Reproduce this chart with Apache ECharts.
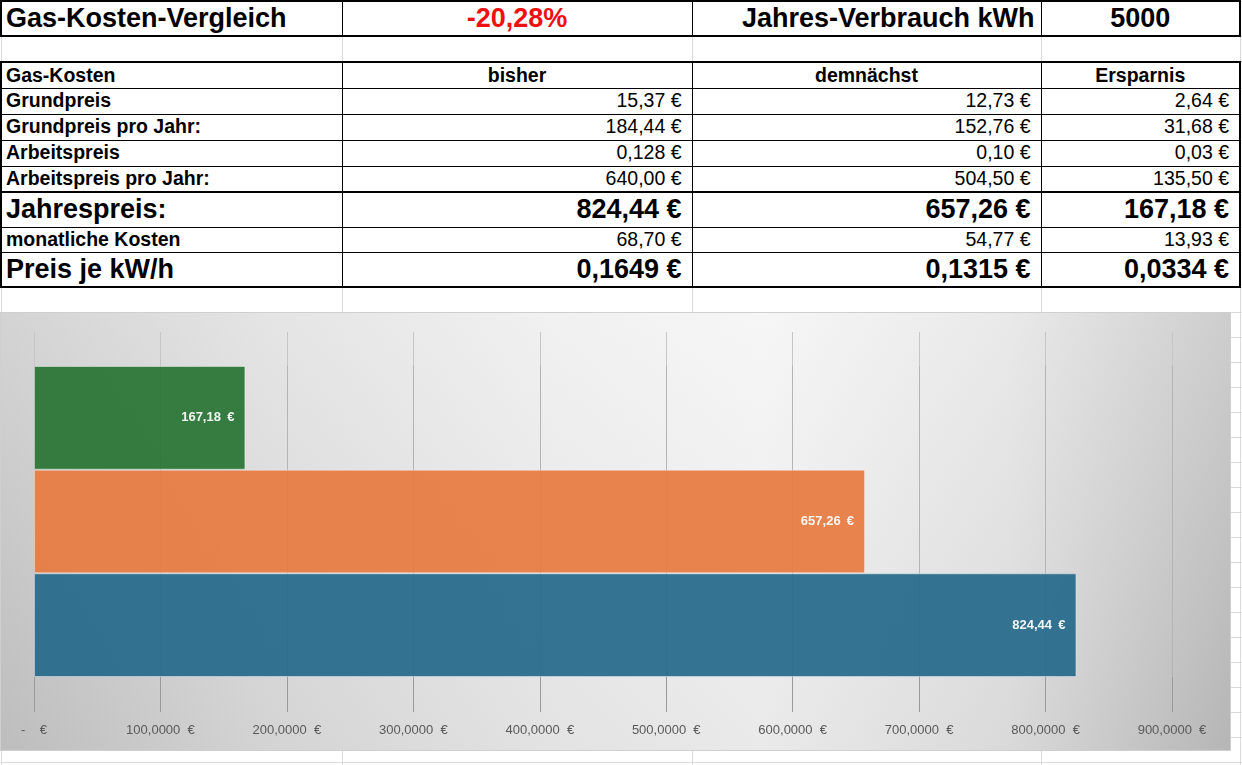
<!DOCTYPE html>
<html lang="de">
<head>
<meta charset="UTF-8">
<title>Gas-Kosten-Vergleich</title>
<script src="https://cdn.jsdelivr.net/npm/echarts@6/dist/echarts.min.js"></script>
<style>
    body{margin:0;background:#fff;width:1242px;height:765px;overflow:hidden;position:relative;
         font-family:"Liberation Sans",Arial,sans-serif;}
    table.sheet{position:absolute;left:0;top:0;width:1259px;border-collapse:collapse;table-layout:fixed;}
    .sheet td{padding:0 10px 0 4px;white-space:nowrap;overflow:hidden;font-size:19.5px;color:#000;
              border:1px solid #000;line-height:1;vertical-align:middle;}
    .sheet td:first-child{border-left:2px solid #000;}
    .sheet td.d{border-right:2px solid #000;}
    .sheet td.e{border:1px solid #dadada;}
    .sheet tr.light td{border:1px solid #dadada;}
    .sheet tr.tt td{border-top:2px solid #000;}
    .sheet tr.tb td{border-bottom:2px solid #000;}
    .sheet tr.tt td.e,.sheet tr.tb td.e{border-top:1px solid #dadada;border-bottom:1px solid #dadada;}
    .b{font-weight:bold;}
    .big{font-size:27px !important;font-weight:bold;}
    .r{text-align:right;}
    .c{text-align:center;padding:0 !important;}
    #chart{position:absolute;left:1px;top:313px;width:1229px;height:437px;z-index:2;
           box-shadow:0 0 0 1px #cfcfcf;
           background:
             linear-gradient(to bottom, rgba(255,255,255,0.25), rgba(0,0,0,0.04)),
             linear-gradient(to right, #c5c5c5 0%, #dcdcdc 22%, #ececec 45%, #f3f3f3 62%, #e2e2e2 82%, #bdbdbd 100%);}
</style>
</head>
<body>

<table class="sheet" id="sheet">
    <colgroup>
        <col style="width:341px"><col style="width:350px"><col style="width:349px"><col style="width:199px"><col style="width:20px">
    </colgroup>
    <tbody id="sheet_body"></tbody>
</table>

<div id="chart"></div>

<script>
    // table content
    var titleRow = ['Gas-Kosten-Vergleich', '-20,28%', 'Jahres-Verbrauch kWh', '5000'];
    var headerRow = ['Gas-Kosten', 'bisher', 'demnächst', 'Ersparnis'];
    var rowLabels = ['Grundpreis', 'Grundpreis pro Jahr:', 'Arbeitspreis', 'Arbeitspreis pro Jahr:',
                     'Jahrespreis:', 'monatliche Kosten', 'Preis je kW/h'];
    var bisher     = ['15,37 €', '184,44 €', '0,128 €', '640,00 €', '824,44 €', '68,70 €', '0,1649 €'];
    var demnaechst = ['12,73 €', '152,76 €', '0,10 €',  '504,50 €', '657,26 €', '54,77 €', '0,1315 €'];
    var ersparnis  = ['2,64 €',  '31,68 €',  '0,03 €',  '135,50 €', '167,18 €', '13,93 €', '0,0334 €'];
    var bigRows = ['Jahrespreis:', 'Preis je kW/h'];

    // chart data (bottom to top)
    var categories = ['bisher', 'demnächst', 'Ersparnis'];
    var jahrespreis = [824.44, 657.26, 167.18];
    var barColors = ['#26698a', '#e77b42', '#297435'];

    var html = '';
    html += '<tr class="tt tb" style="height:35px">' +
        '<td class="big">' + titleRow[0] + '</td>' +
        '<td class="big c" style="color:#ee1111">' + titleRow[1] + '</td>' +
        '<td class="big r" style="padding-right:6px">' + titleRow[2] + '</td>' +
        '<td class="big c d">' + titleRow[3] + '</td><td class="e"></td></tr>';
    html += '<tr class="light" style="height:26px"><td></td><td></td><td></td><td></td><td></td></tr>';
    html += '<tr class="tt" style="height:26px">' +
        '<td class="b">' + headerRow[0] + '</td>' +
        '<td class="b c">' + headerRow[1] + '</td>' +
        '<td class="b c">' + headerRow[2] + '</td>' +
        '<td class="b c d">' + headerRow[3] + '</td><td class="e"></td></tr>';
    for (var i = 0; i < rowLabels.length; i++) {
        var big = bigRows.indexOf(rowLabels[i]) >= 0;
        var cls = '';
        if (i == 3 || i == rowLabels.length - 1) cls = 'tb';
        var h = big ? 35 : 26;
        if (rowLabels[i] == 'monatliche Kosten') h = 25;
        var vc = big ? 'big r' : 'r';
        html += '<tr class="' + cls + '" style="height:' + h + 'px">' +
            '<td class="' + (big ? 'big' : 'b') + '">' + rowLabels[i] + '</td>' +
            '<td class="' + vc + '">' + bisher[i] + '</td>' +
            '<td class="' + vc + '">' + demnaechst[i] + '</td>' +
            '<td class="' + vc + ' d">' + ersparnis[i] + '</td><td class="e"></td></tr>';
    }
    for (var k = 0; k < 20; k++) {
        html += '<tr class="light" style="height:25px"><td></td><td></td><td></td><td></td><td></td></tr>';
    }
    document.getElementById('sheet_body').innerHTML = html;

    function fmtAxis(v) {
        if (v === 0) return '-\u00a0\u00a0\u00a0\u00a0€';
        return v.toFixed(4).replace('.', ',') + '\u00a0\u00a0€';
    }
    function fmtEuro(v) {
        return v.toFixed(2).replace('.', ',') + '\u00a0\u2009€';
    }

    var myChart = echarts.init(document.getElementById('chart'));
    myChart.setOption({
        animation: false,
        backgroundColor: 'transparent',
        grid: {left: 33, right: 58, top: 53, bottom: 73},
        xAxis: [{
            type: 'value', min: 0, max: 900, interval: 100, position: 'bottom',
            axisLine: {show: false},
            axisTick: {show: true, length: 35, lineStyle: {color: '#9a9a9a'}},
            splitLine: {show: true, lineStyle: {color: '#b4b4b4'}},
            axisLabel: {margin: 47, color: '#595959', fontSize: 13, fontFamily: 'Liberation Sans', formatter: fmtAxis}
        }, {
            type: 'value', min: 0, max: 900, interval: 100, position: 'top',
            axisLine: {show: false},
            axisTick: {show: true, length: 34, lineStyle: {color: '#c6c6c6'}},
            splitLine: {show: false},
            axisLabel: {show: false}
        }],
        yAxis: {
            type: 'category', data: categories,
            axisLine: {show: false}, axisTick: {show: false}, axisLabel: {show: false}
        },
        series: [{
            type: 'bar',
            barWidth: '100%',
            data: jahrespreis.map(function (v, i) {
                return {value: v, itemStyle: {color: barColors[i]}};
            }),
            itemStyle: {opacity: 0.93, borderColor: 'rgba(255,255,255,0.45)', borderWidth: 1},
            label: {
                show: true, position: 'insideRight', distance: 11,
                color: '#fff', fontWeight: 'bold', fontSize: 13, fontFamily: 'Liberation Sans',
                formatter: function (p) { return fmtEuro(p.value); }
            }
        }]
    });
</script>
</body>
</html>
